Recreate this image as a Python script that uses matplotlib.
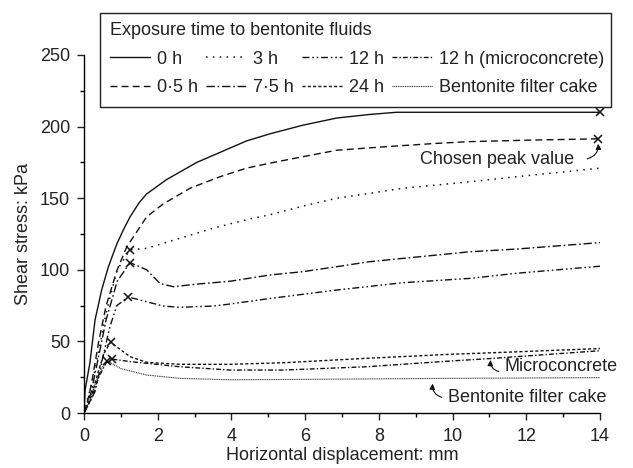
import matplotlib
matplotlib.use("Agg")
import matplotlib.pyplot as plt
from matplotlib.patches import Rectangle
import numpy as np

plt.rcParams['font.family'] = ['Liberation Sans', 'DejaVu Sans']
plt.rcParams['font.size'] = 13
plt.rcParams['text.color'] = '#222222'
plt.rcParams['axes.labelcolor'] = '#222222'

# shear stress curves (x: mm, y: kPa)
x_0h = [0, 0.03, 0.16, 0.30, 0.48, 0.66, 0.89, 1.07, 1.25, 1.50, 1.70, 2.24, 3.06, 3.69, 4.41, 5.05, 5.94, 6.86, 7.76, 8.48, 10, 12, 14]
y_0h = [0, 16, 35, 65, 86, 102, 118, 128, 137, 147, 153, 163, 175, 182, 190, 195, 201, 206, 208.5, 210, 210, 210, 210]

x_05h = [0, 0.05, 0.2, 0.4, 0.6, 0.9, 1.16, 1.70, 2.15, 2.88, 3.69, 4.41, 5.05, 5.94, 6.86, 8.21, 9.57, 10.47, 12, 14]
y_05h = [0, 3, 20, 50, 75, 100, 116, 137, 146, 157, 165, 171, 174.5, 179, 183.5, 186, 188.3, 189.5, 190.5, 191.5]

x_3h = [0, 0.3, 0.6, 0.9, 1.25, 1.70, 2.6, 3.5, 4.41, 5.05, 5.94, 6.86, 7.76, 8.66, 9.57, 10.47, 11.74, 14]
y_3h = [0, 30, 70, 100, 114, 115, 122, 129, 135, 138.5, 144.5, 150, 153.4, 157, 159.2, 161.5, 165, 171]

x_75h = [0, 0.2, 0.4, 0.6, 0.9, 1.25, 1.70, 2.06, 2.42, 3.06, 3.96, 5.05, 5.94, 6.86, 7.76, 8.66, 9.57, 10.47, 11.74, 14]
y_75h = [0, 15, 40, 65, 92, 105, 100, 90.5, 88.2, 90, 92, 96.4, 98.7, 102.2, 105.7, 108, 110.3, 112.6, 114.5, 119]

x_12h = [0, 0.3, 0.52, 0.7, 0.89, 1.20, 1.70, 2.15, 2.6, 3.5, 3.96, 5.05, 6.86, 8.66, 10.47, 11.74, 14]
y_12h = [0, 15, 40, 60, 75, 81, 77.7, 74.7, 73.8, 74.7, 76.1, 80, 85.9, 91, 94, 97.6, 102.5]

x_24h = [0, 0.2, 0.4, 0.55, 0.72, 1.25, 1.70, 2.6, 3.96, 5.41, 7.67, 9.93, 11.0, 14]
y_24h = [0, 12, 30, 42, 49.4, 39.3, 35.4, 34, 34, 35.1, 38.2, 41, 42, 45]

x_micro = [0, 0.2, 0.4, 0.6, 0.75, 1.25, 1.70, 2.6, 3.96, 5.41, 7.67, 9.93, 11.0, 14]
y_micro = [0, 10, 25, 35, 37.7, 35.9, 34.7, 32.3, 30, 30, 32.3, 36.3, 38, 43.5]

x_cake = [0, 0.15, 0.3, 0.5, 0.63, 1.0, 1.70, 2.6, 3.96, 6.0, 9.93, 14]
y_cake = [0, 8, 20, 32, 36.5, 31, 26.5, 24.2, 23.2, 23.5, 24.2, 24.7]

# peak markers
peak_x = [14, 13.93, 1.25, 1.25, 1.20, 0.72, 0.75, 0.63]
peak_y = [210, 191.5, 114, 105, 81, 49.4, 37.7, 36.5]

series = [
    ('0 h', x_0h, y_0h, '-', 1.0),
    ('0·5 h', x_05h, y_05h, (0, (5, 3)), 1.0),
    ('3 h', x_3h, y_3h, (0, (1, 3.5)), 1.1),
    ('7·5 h', x_75h, y_75h, (0, (6, 2, 1.2, 2)), 1.0),
    ('12 h', x_12h, y_12h, (0, (5, 2, 1.2, 2, 1.2, 2)), 1.0),
    ('24 h', x_24h, y_24h, (0, (2.2, 1.6)), 1.0),
    ('12 h (microconcrete)', x_micro, y_micro, (0, (3.5, 1.5, 1, 1.5)), 1.0),
    ('Bentonite filter cake', x_cake, y_cake, (0, (0.8, 0.8)), 0.8),
]

W, H = 633, 468
fig = plt.figure(figsize=(6.33, 4.68), dpi=100)
ax = fig.add_axes([0.1327, 0.1175, 0.8153, 0.765])

handles = []
for name, xs, ys, ls, lw in series:
    h, = ax.plot(xs, ys, color='#111111', linestyle=ls, linewidth=lw, label=name)
    handles.append(h)

ax.plot(peak_x, peak_y, linestyle='none', marker='x', color='#111111',
        markersize=5.5, markeredgewidth=1.1, clip_on=False)

ax.set_xlim(0, 14)
ax.set_ylim(0, 250)
ax.set_xticks(np.arange(0, 15, 2))
ax.set_xticks(np.arange(1, 14, 2), minor=True)
ax.set_yticks(np.arange(0, 251, 50))
ax.set_yticks(np.arange(25, 250, 50), minor=True)
ax.spines['top'].set_visible(False)
ax.spines['right'].set_visible(False)
for s in ('left', 'bottom'):
    ax.spines[s].set_linewidth(1.0)
ax.tick_params(which='major', length=5, width=1.0, labelsize=13, colors='#222222', pad=5)
ax.tick_params(axis='x', which='major', pad=6)
ax.tick_params(which='minor', length=3, width=1.0)

ax.set_xlabel('Horizontal displacement: mm', fontsize=13, labelpad=1)
ax.set_ylabel('Shear stress: kPa', fontsize=13, labelpad=6)

arrow_kw = dict(arrowstyle='-|>', color='#111111', lw=0.8,
                mutation_scale=8, shrinkA=0, shrinkB=0)

ax.text(9.12, 177, 'Chosen peak value', fontsize=13, va='center')
ax.annotate('', xy=(13.95, 188), xytext=(13.65, 177.5),
            arrowprops=dict(connectionstyle='arc3,rad=0.4', **arrow_kw))

ax.text(11.42, 32.3, 'Microconcrete', fontsize=13, va='center', clip_on=False)
ax.annotate('', xy=(11.03, 37), xytext=(11.25, 29),
            arrowprops=dict(connectionstyle='arc3,rad=-0.4', **arrow_kw))

ax.text(9.88, 11, 'Bentonite filter cake', fontsize=13, va='center', clip_on=False)
ax.annotate('', xy=(9.46, 20.5), xytext=(9.7, 11),
            arrowprops=dict(connectionstyle='arc3,rad=-0.4', **arrow_kw))

leg = fig.legend(handles=handles, ncol=4, loc='upper left',
                 bbox_to_anchor=(104.5 / W, 1 - 17 / H),
                 title='Exposure time to bentonite fluids', alignment='left',
                 fontsize=13, title_fontsize=13, frameon=False,
                 handlelength=2.2, handletextpad=0.4, columnspacing=0.45,
                 labelspacing=0.63, borderpad=0.3, borderaxespad=0)

# legend frame box
fig.patches.append(Rectangle((100 / W, 1 - 107 / H), 511 / W, 94 / H,
                             transform=fig.transFigure, fill=False,
                             edgecolor='#222222', linewidth=1.0))

fig.savefig('out.png', dpi=100)
